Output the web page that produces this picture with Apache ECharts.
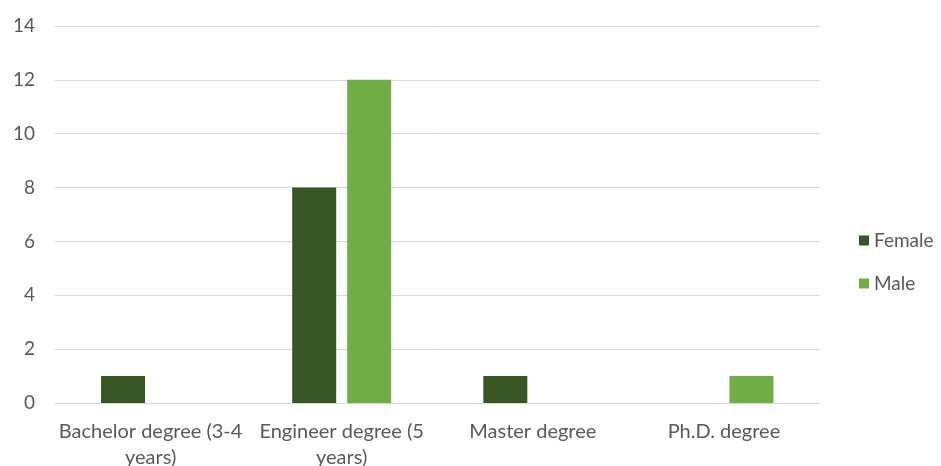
<!DOCTYPE html>
<html>
<head>
<meta charset="utf-8">
<script src="https://cdn.jsdelivr.net/npm/echarts@6/dist/echarts.min.js"></script>
<style>
  html, body { margin: 0; padding: 0; background: #ffffff; }
  #chart { width: 941px; height: 466px; }
</style>
</head>
<body>
<div id="chart"></div>
<script>
// Degree categories and counts by gender
const categories = [
  'Bachelor degree (3-4\nyears)',
  'Engineer degree (5\nyears)',
  'Master degree',
  'Ph.D. degree'
];
const femaleCounts = [1, 8, 1, 0];
const maleCounts = [0, 12, 0, 1];
const seriesNames = ['Female', 'Male'];
const yTicks = { min: 0, max: 14, interval: 2 };

const textColor = '#595959';
const fontFamily = 'Lato, "Open Sans", sans-serif';
const fontSize = 19;

const chart = echarts.init(document.getElementById('chart'), null, { renderer: 'canvas' });

chart.setOption({
  animation: false,
  backgroundColor: '#ffffff',
  grid: {
    left: 55, right: 121.5, top: 26, bottom: 63,
    containLabel: false,
    outerBoundsMode: 'none'
  },
  legend: {
    orient: 'vertical',
    left: 854,
    top: 226,
    itemWidth: 10,
    itemHeight: 10,
    itemGap: 24,
    icon: 'rect',
    data: seriesNames,
    textStyle: { color: textColor, fontSize: fontSize, fontFamily: fontFamily }
  },
  xAxis: {
    type: 'category',
    data: categories,
    axisLine: { show: true, lineStyle: { color: '#d9d9d9', width: 1 } },
    axisTick: { show: false },
    axisLabel: {
      color: textColor,
      fontSize: 20,
      fontFamily: fontFamily,
      lineHeight: 26,
      margin: 16,
      interval: 0
    }
  },
  yAxis: {
    type: 'value',
    min: yTicks.min,
    max: yTicks.max,
    interval: yTicks.interval,
    axisLine: { show: false },
    axisTick: { show: false },
    splitLine: { lineStyle: { color: '#d9d9d9', width: 1 } },
    axisLabel: { color: textColor, fontSize: fontSize, fontFamily: fontFamily, margin: 20 }
  },
  series: [
    {
      name: seriesNames[0],
      type: 'bar',
      data: femaleCounts,
      itemStyle: { color: '#375623' },
      barWidth: 44,
      barGap: '25%'
    },
    {
      name: seriesNames[1],
      type: 'bar',
      data: maleCounts,
      itemStyle: { color: '#70ad47' },
      barWidth: 44,
      barGap: '25%'
    }
  ]
});
</script>
</body>
</html>
